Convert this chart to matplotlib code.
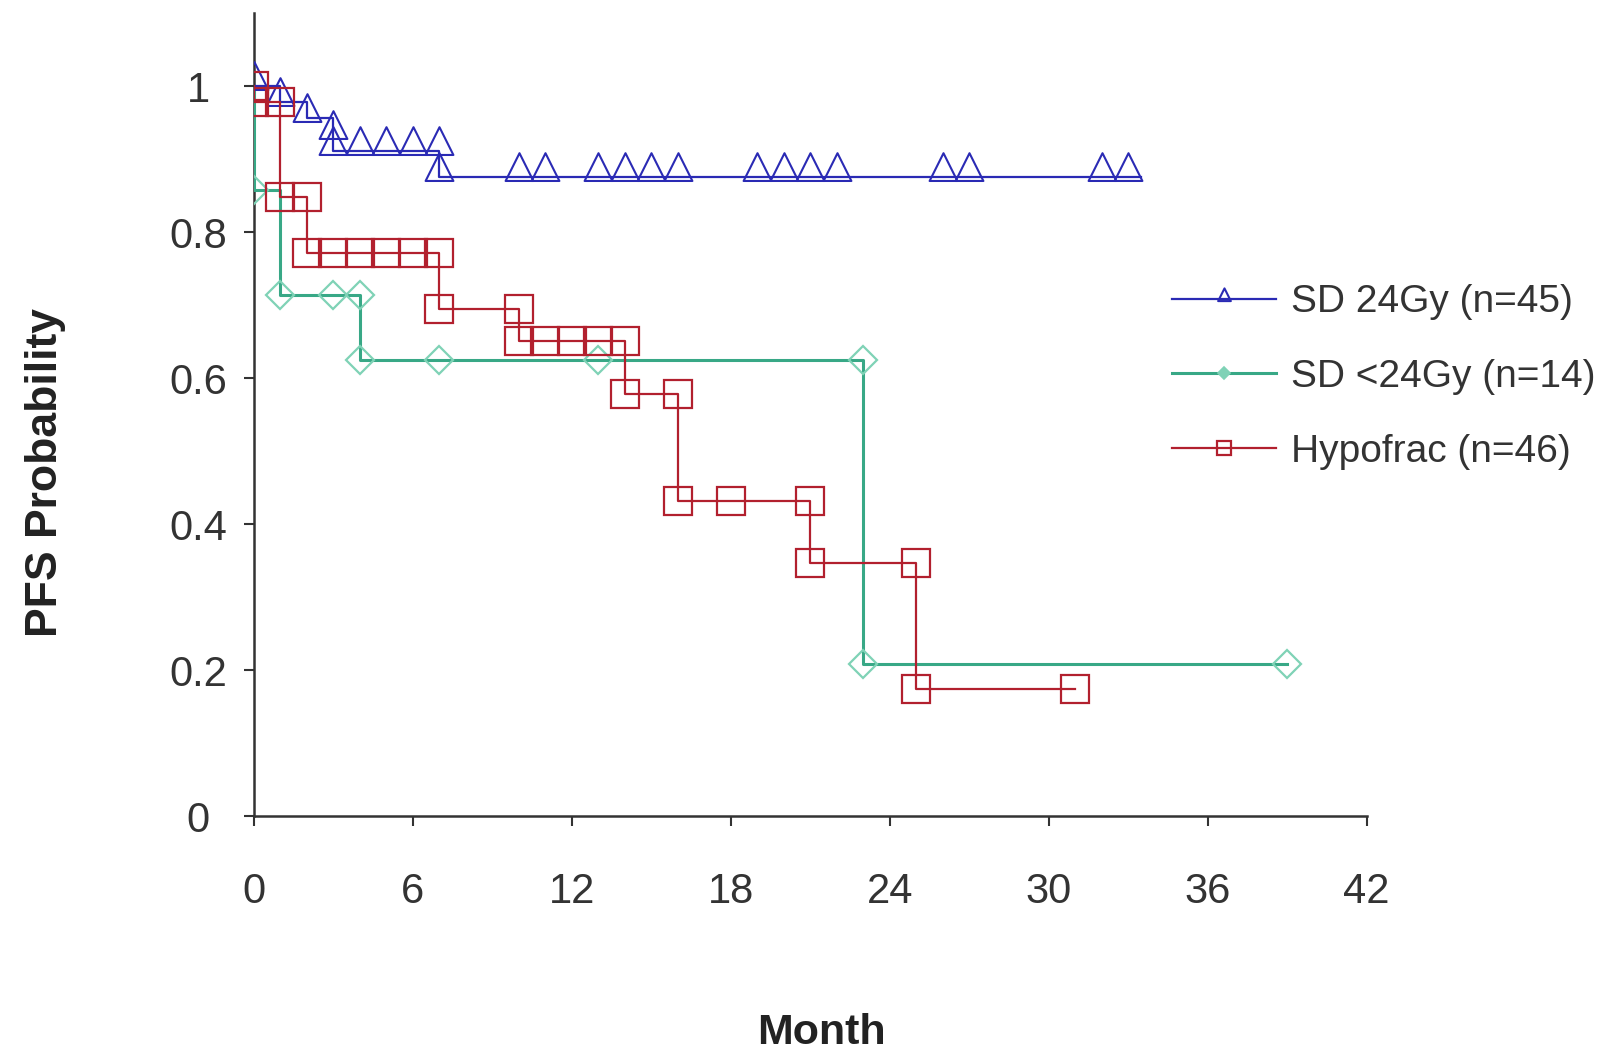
import matplotlib
matplotlib.use('Agg')
import matplotlib.pyplot as plt
from matplotlib.lines import Line2D
from matplotlib.path import Path

plt.rcParams['font.family'] = ['Liberation Sans', 'DejaVu Sans']

# ---------------- data ----------------
# step curves: time (months) and PFS probability, drawn as post-steps
blue_t = [0, 1, 2, 3, 3, 7, 33.5]
blue_s = [1.0, 0.978, 0.956, 0.933, 0.911, 0.876, 0.876]
blue_mark_t = [0, 1, 2, 3, 3, 4, 5, 6, 7, 7, 10, 11, 13, 14, 15, 16,
               19, 20, 21, 22, 26, 27, 32, 33]
blue_mark_s = [1.0, 0.978, 0.956, 0.933, 0.911, 0.911, 0.911, 0.911, 0.911,
               0.876, 0.876, 0.876, 0.876, 0.876, 0.876, 0.876, 0.876,
               0.876, 0.876, 0.876, 0.876, 0.876, 0.876, 0.876]

green_t = [0, 0, 1, 4, 23, 39]
green_s = [1.0, 0.857, 0.714, 0.625, 0.208, 0.208]
green_mark_t = [0, 1, 3, 4, 4, 7, 13, 23, 23, 39]
green_mark_s = [0.857, 0.714, 0.714, 0.714, 0.625, 0.625, 0.625, 0.625,
                0.208, 0.208]

red_t = [0, 0, 1, 2, 7, 10, 14, 16, 21, 25, 31]
red_s = [1.0, 0.978, 0.848, 0.771, 0.694, 0.651, 0.578, 0.431, 0.347,
         0.174, 0.174]
red_mark_t = [0, 0, 1, 1, 2, 2, 3, 4, 5, 6, 7, 7, 10, 10, 11, 12, 13, 14,
              14, 16, 16, 18, 21, 21, 25, 25, 31]
red_mark_s = [1.0, 0.978, 0.978, 0.848, 0.848, 0.771, 0.771, 0.771, 0.771,
              0.771, 0.771, 0.694, 0.694, 0.651, 0.651, 0.651, 0.651, 0.651,
              0.578, 0.578, 0.431, 0.431, 0.431, 0.347, 0.347, 0.174, 0.174]

labels = ['SD 24Gy (n=45)', 'SD <24Gy (n=14)', 'Hypofrac (n=46)']
x_ticks = [0, 6, 12, 18, 24, 30, 36, 42]
y_ticks = [0, 0.2, 0.4, 0.6, 0.8, 1.0]
y_ticklabels = ['0', '0.2', '0.4', '0.6', '0.8', '1']

# ---------------- styles ----------------
BLUE = '#2a2ab4'
GREEN_LINE = '#38a886'
GREEN_MARK = '#7fd2b6'
RED = '#b2202e'
TXT = '#333333'

# triangle whose base sits just under the data point
tri = Path([(0, 1.75), (-1, -0.25), (1, -0.25), (0, 1.75)],
           [Path.MOVETO, Path.LINETO, Path.LINETO, Path.CLOSEPOLY])

fig = plt.figure(figsize=(16.05, 10.51), dpi=100)
ax = fig.add_axes([254 / 1605, (1051 - 816) / 1051, 1112.5 / 1605, 803 / 1051])

# green
ax.step(green_t, green_s, where='post', color=GREEN_LINE, lw=2.2, zorder=2)
ax.plot(green_mark_t, green_mark_s, ls='none', marker='D', ms=14,
        mfc='none', mec=GREEN_MARK, mew=1.6, zorder=2)
# blue
ax.step(blue_t, blue_s, where='post', color=BLUE, lw=1.6, zorder=3)
ax.plot(blue_mark_t, blue_mark_s, ls='none', marker=tri, ms=35,
        mfc='none', mec=BLUE, mew=1.5, zorder=3)
# red
ax.step(red_t, red_s, where='post', color=RED, lw=1.6, zorder=4)
ax.plot(red_mark_t, red_mark_s, ls='none', marker='s', ms=20,
        mfc='none', mec=RED, mew=1.6, zorder=4)

ax.set_xlim(0, 42)
ax.set_ylim(0, 1.1)
for s in ['top', 'right']:
    ax.spines[s].set_visible(False)
for s in ['left', 'bottom']:
    ax.spines[s].set_color('#333333')
    ax.spines[s].set_linewidth(1.8)
    ax.spines[s].set_zorder(1)

ax.set_xticks(x_ticks)
ax.set_xticklabels([str(v) for v in x_ticks])
ax.set_yticks(y_ticks)
ax.set_yticklabels(y_ticklabels)
ax.tick_params(axis='x', direction='out', length=7.2, width=1.5,
               colors='#333333', labelsize=30, pad=33, labelcolor=TXT)
ax.tick_params(axis='y', direction='out', length=7.2, width=1.5,
               colors='#333333', labelsize=30, pad=33, labelcolor=TXT)
for t in ax.get_yticklabels():
    t.set_ha('center')

ax.set_xlabel('Month', fontsize=31, fontweight='bold', color='#222222')
ax.set_ylabel('PFS Probability', fontsize=32, fontweight='bold',
              color='#222222')
ax.xaxis.set_label_coords(0.51, -0.245)
ax.yaxis.set_label_coords(-0.169, 0.428)

handles = [
    Line2D([], [], color=BLUE, lw=1.6, marker=tri, ms=16, mfc='none',
           mec=BLUE, mew=1.5),
    Line2D([], [], color=GREEN_LINE, lw=2.2, marker='D', ms=6,
           mfc=GREEN_MARK, mec=GREEN_MARK, mew=1.2),
    Line2D([], [], color=RED, lw=1.6, marker='s', ms=10, mfc='none',
           mec=RED, mew=1.6),
]
leg = fig.legend(handles, labels, loc='center left',
                 bbox_to_anchor=(1172 / 1605, 1 - 377 / 1051),
                 frameon=False, fontsize=28, handlelength=2.68,
                 handletextpad=0.39, labelspacing=0.99, borderpad=0,
                 borderaxespad=0)
for t in leg.get_texts():
    t.set_color(TXT)

fig.savefig('out.png', dpi=100, facecolor='white')
